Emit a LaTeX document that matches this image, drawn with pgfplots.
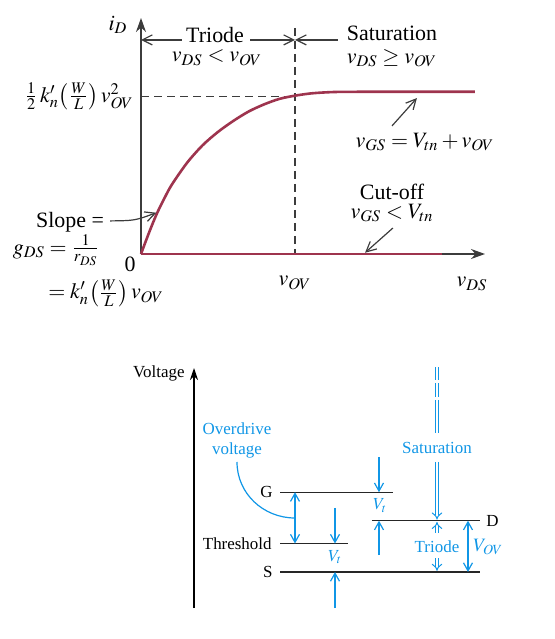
\documentclass[border=0pt]{standalone}
\usepackage{mathptmx}
\usepackage{fontspec}
\setmainfont{Liberation Serif}
\usepackage{pgfplots}
\pgfplotsset{compat=1.18}
\usetikzlibrary{arrows.meta}
\definecolor{curve}{RGB}{158,52,78}
\definecolor{lblue}{RGB}{16,150,230}
\definecolor{axgray}{RGB}{60,60,60}
\tikzset{
  oarrow/.style={-{Straight Barb[length=5bp,width=5bp]}},
  barb/.style={-{Straight Barb[length=4bp,width=4.5bp]}},
  bbarb/.style={{Straight Barb[length=4bp,width=4.5bp]}-{Straight Barb[length=4bp,width=4.5bp]}},
  dbl/.style={lblue, double=white, double distance=1.3bp, line width=0.5bp},
}
\begin{document}
\begin{tikzpicture}
\path[use as bounding box] (0,0) rectangle (277.5bp,-319.5bp);
% ---------------- top: i_D - v_DS characteristic ----------------
\begin{axis}[
  at={(70.5bp,-127bp)}, anchor=south west,
  scale only axis, width=172bp, height=118bp,
  xmin=0, xmax=2.234, ymin=0, ymax=1.498,
  axis lines=left,
  axis line style={axgray, line width=0.7bp, -{Stealth[length=7bp,width=5bp]}},
  xtick=\empty, ytick=\empty, clip=false,
  font=\fontsize{11}{13}\selectfont,
  every node/.append style={inner sep=1pt},
]
\draw[axgray, line width=0.6bp, dash pattern=on 4bp off 2.5bp] (axis cs:0,1) -- (axis cs:1,1);
\draw[axgray, line width=0.6bp, dash pattern=on 4bp off 2.5bp] (axis cs:1,1.435) -- (axis cs:1,0);
\addplot[curve, line width=1.3bp, smooth] coordinates {
  (0,0) (0.05,0.13) (0.1,0.25) (0.15,0.35) (0.2,0.44) (0.3,0.58) (0.4,0.69)
  (0.5,0.775) (0.6,0.845) (0.7,0.905) (0.8,0.95) (0.9,0.985) (1.0,1.005)
  (1.1,1.019) (1.2,1.026) (1.3,1.029) (1.6,1.03) (2.169,1.03)};
\addplot[curve, line width=1.3bp] coordinates {(0,0) (1.955,0)};
% labels
\node at (axis cs:-0.149,1.454) {$i_D$};
\draw[axgray, line width=0.6bp, oarrow] (axis cs:0.266,1.359) -- (axis cs:0,1.359);
\draw[axgray, line width=0.6bp, oarrow] (axis cs:0.708,1.359) -- (axis cs:1,1.359);
\draw[axgray, line width=0.6bp, oarrow] (axis cs:1.279,1.359) -- (axis cs:1,1.359);
\node at (axis cs:0.481,1.39) {Triode};
\node at (axis cs:0.494,1.245) {$v_{DS}<v_{OV}$};
\node at (axis cs:1.63,1.403) {Saturation};
\node at (axis cs:1.63,1.245) {$v_{DS}\geq v_{OV}$};
\node[anchor=east, inner sep=0] at (axis cs:-0.045,1.0) {$\frac{1}{2}\,k_n'\bigl(\frac{W}{L}\bigr)\,v_{OV}^2$};
\node at (axis cs:-0.071,-0.063) {0};
\node at (axis cs:1.0,-0.184) {$v_{OV}$};
\node at (axis cs:2.149,-0.19) {$v_{DS}$};
\node at (axis cs:-0.461,0.203) {Slope =};
\draw[axgray, line width=0.6bp, oarrow] (axis cs:-0.201,0.21) .. controls (axis cs:-0.04,0.212) .. (axis cs:0.1,0.262);
\node at (axis cs:-0.55,0.025) {$g_{DS}=\frac{1}{r_{DS}}$};
\node at (axis cs:-0.227,-0.248) {$=k_n'\bigl(\frac{W}{L}\bigr)\,v_{OV}$};
\node at (axis cs:1.844,0.711) {$v_{GS}=V_{tn}+v_{OV}$};
\draw[axgray, line width=0.6bp, oarrow] (axis cs:1.63,0.813) -- (axis cs:1.792,0.99);
\node at (axis cs:1.63,0.394) {Cut-off};
\node at (axis cs:1.63,0.262) {$v_{GS}<V_{tn}$};
\draw[axgray, line width=0.6bp, oarrow] (axis cs:1.636,0.165) -- (axis cs:1.455,0.008);
\end{axis}
% ---------------- bottom: voltage levels ----------------
\begin{axis}[
  at={(97bp,-304bp)}, anchor=south west,
  scale only axis, width=150bp, height=120bp,
  xmin=0, xmax=300, ymin=-1.263, ymax=7.158,
  axis x line=none, axis y line=left,
  axis line style={black, line width=0.6bp, -{Stealth[length=6bp,width=4bp]}},
  xtick=\empty, ytick=\empty, clip=false,
  font=\fontsize{8.5}{10}\selectfont,
]
\addplot[black!85, line width=0.6bp] coordinates {(86,2.8) (199,2.8)};
\addplot[black!85, line width=0.6bp] coordinates {(86,1) (154,1)};
\addplot[black!85, line width=0.6bp] coordinates {(86,0) (286,0)};
\addplot[black!85, line width=0.6bp] coordinates {(178,1.8) (286,1.8)};
\node[anchor=east, inner sep=0] at (axis cs:-9,6.98) {Voltage};
\node[anchor=east, inner sep=0] at (axis cs:79,2.8) {G};
\node[anchor=east, inner sep=0] at (axis cs:78,1) {Threshold};
\node[anchor=east, inner sep=0] at (axis cs:79,0) {S};
\node[anchor=west, inner sep=0] at (axis cs:292,1.8) {D};
% overdrive
\draw[lblue, line width=0.6bp, bbarb] (axis cs:101,2.8) -- (axis cs:101,1);
\draw[lblue, line width=0.6bp] (axis cs:43,3.86) to[out=-90,in=180] (axis cs:101,1.895);
\node[lblue, align=center] at (axis cs:43,4.63) {Overdrive\\voltage};
% Vt left
\draw[lblue, line width=0.6bp, barb] (axis cs:141,2.246) -- (axis cs:141,1);
\draw[lblue, line width=0.6bp, barb] (axis cs:141,-1.263) -- (axis cs:141,0);
\node[lblue] at (axis cs:141,0.52) {$V_t$};
% Vt right
\draw[lblue, line width=0.6bp, barb] (axis cs:185,4.035) -- (axis cs:185,2.8);
\draw[lblue, line width=0.6bp, barb] (axis cs:185,0.596) -- (axis cs:185,1.8);
\node[lblue] at (axis cs:186,2.34) {$V_t$};
% saturation / triode
\draw[dbl] (axis cs:243,7.19) -- (axis cs:243,6.74);
\draw[dbl] (axis cs:243,6.63) -- (axis cs:243,6.14);
\draw[dbl] (axis cs:243,6.04) -- (axis cs:243,4.88);
\node[lblue] at (axis cs:243,4.35) {Saturation};
\draw[dbl, -{Implies}] (axis cs:243,3.86) -- (axis cs:243,1.84);
\draw[dbl, -{Implies}] (axis cs:243,1.37) -- (axis cs:243,1.76);
\node[lblue] at (axis cs:243,0.877) {Triode};
\draw[dbl, -{Implies}] (axis cs:243,0.49) -- (axis cs:243,0.04);
\draw[lblue, line width=0.6bp, bbarb] (axis cs:274,1.8) -- (axis cs:274,0);
\node[lblue, anchor=west, inner sep=0, font=\fontsize{9.5}{11}\selectfont] at (axis cs:279,0.877) {$V_{OV}$};
\end{axis}
\end{tikzpicture}
\end{document}
